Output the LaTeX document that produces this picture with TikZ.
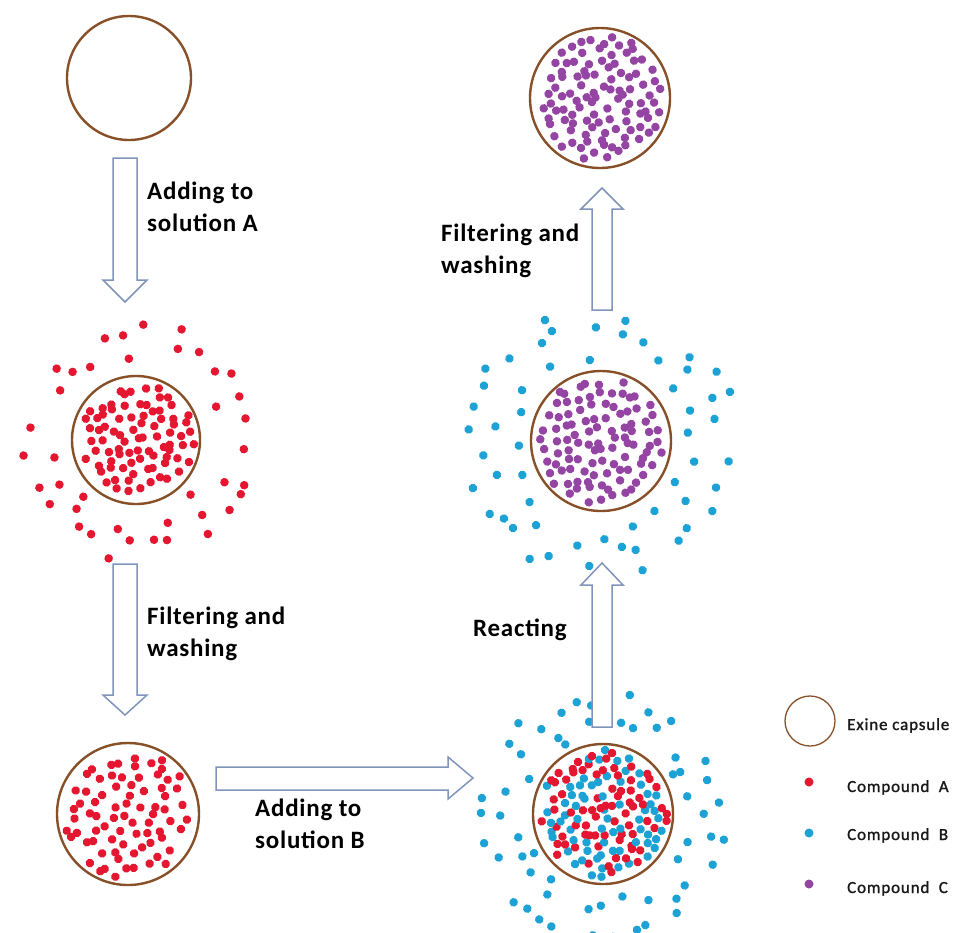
\documentclass[tikz,border=0pt]{standalone}
\usepackage{fontspec}
\setmainfont{Carlito}
\usetikzlibrary{calc}
\definecolor{capbrown}{RGB}{135,80,40}
\definecolor{dotred}{RGB}{228,22,48}
\definecolor{dotblue}{RGB}{28,162,212}
\definecolor{dotpurple}{RGB}{148,68,162}
\definecolor{arrowcol}{RGB}{128,148,188}
\tikzset{
  capsule/.style={circle, draw=capbrown, line width=2.4pt, inner sep=0pt, minimum size=#1},
  blockarrow/.style={draw=arrowcol, line width=1.5pt, fill=white, line join=miter},
  steplabel/.style={font=\bfseries\fontsize{25}{32}\selectfont\addfontfeatures{LetterSpace=3}, align=left, anchor=base west, inner sep=0pt},
  legendtext/.style={font=\fontsize{17}{18}\selectfont\addfontfeatures{LetterSpace=5,FakeBold=1.2}, anchor=base west, inner sep=0pt, text=black!90},
  reddot/.style={fill=dotred},
  bluedot/.style={fill=dotblue},
  purpledot/.style={fill=dotpurple},
}
% jittered grid of dots in an annulus
% #1 centre, #2 inner r, #3 outer r, #4 spacing, #5 jitter, #6 style, #7 half count, #8 grid rotation
\newcommand\dotfield[8]{%
  \begin{scope}[shift={(#1)}, rotate=#8]
  \foreach \i in {-#7,...,#7}{\foreach \j in {-#7,...,#7}{%
    \pgfmathsetmacro\px{\i*#4+#5*rand}%
    \pgfmathsetmacro\py{\j*#4+#5*rand}%
    \pgfmathsetmacro\dd{10*veclen(\px/10,\py/10)}%
    \ifdim\dd pt<#3pt \ifdim\dd pt>#2pt
      \fill[#6] (\px pt,\py pt) circle (4.3pt);
    \fi\fi
  }}
  \end{scope}}
% mixed red/blue jittered grid in a disc: #1 centre, #2 radius, #3 spacing, #4 jitter, #5 half count, #6 rotation
\newcommand\mixfield[6]{%
  \begin{scope}[shift={(#1)}, rotate=#6]
  \foreach \i in {-#5,...,#5}{\foreach \j in {-#5,...,#5}{%
    \pgfmathsetmacro\px{\i*#3+#4*rand}%
    \pgfmathsetmacro\py{\j*#3+#4*rand}%
    \pgfmathsetmacro\dd{10*veclen(\px/10,\py/10)}%
    \pgfmathtruncatemacro\kk{rnd<0.5}%
    \ifdim\dd pt<#2pt
      \ifnum\kk=1 \fill[reddot] (\px pt,\py pt) circle (4.3pt);
      \else \fill[bluedot] (\px pt,\py pt) circle (4.3pt);\fi
    \fi
  }}
  \end{scope}}
\begin{document}
\begin{tikzpicture}[x=1pt,y=-1pt]
\useasboundingbox (0,0) rectangle (963,932);
\fill[white] (0,0) rectangle (963,932);

% capsules
\node[capsule=124pt] (c1) at (129,78) {};
\node[capsule=128pt] (c2) at (136,440) {};
\node[capsule=142pt] (c3) at (128,814) {};
\node[capsule=140pt] (c4) at (600,98) {};
\node[capsule=140pt] (c5) at (601,441) {};
\node[capsule=140pt] (c6) at (603,814) {};

% dots
\pgfmathsetseed{11}
\dotfield{c2}{0}{58}{11}{4}{reddot}{6}{17}
\dotfield{c2}{76}{122}{26}{10}{reddot}{5}{8}
\pgfmathsetseed{23}
\dotfield{c3}{0}{64}{13}{4.5}{reddot}{6}{23}
\pgfmathsetseed{37}
\dotfield{c4}{0}{64}{11.3}{4}{purpledot}{6}{31}
\pgfmathsetseed{41}
\dotfield{c5}{0}{64}{11.3}{4}{purpledot}{6}{12}
\dotfield{c5}{80}{138}{28}{10}{bluedot}{5}{21}
\pgfmathsetseed{53}
\mixfield{c6}{64}{9.5}{3.5}{7}{27}
\dotfield{c6}{78}{126}{23}{9}{bluedot}{6}{14}

% block arrows
\draw[blockarrow] (113,158) -- (137,158) -- (137,280) -- (147,280) -- (125,302) -- (103,280) -- (113,280) -- cycle;
\draw[blockarrow] (113,564) -- (137,564) -- (137,695) -- (147,695) -- (125,715) -- (103,695) -- (113,695) -- cycle;
\draw[blockarrow] (216,767) -- (448,767) -- (448,757) -- (473,778) -- (448,799) -- (448,790) -- (216,790) -- cycle;
\draw[blockarrow] (592,727) -- (612,727) -- (612,585) -- (623,585) -- (602,563) -- (581,585) -- (592,585) -- cycle;
\draw[blockarrow] (592,310) -- (612,310) -- (612,209) -- (623,209) -- (602,188) -- (581,209) -- (592,209) -- cycle;

% labels (base anchor = baseline of last line)
\node[steplabel] (t1) at (147,231) {Adding to\\solution A};
\node[steplabel] (t2) at (147,656) {Filtering and\\washing};
\node[steplabel] (t3) at (255,848) {Adding to\\solution B};
\node[steplabel] (t4) at (441,273) {Filtering and\\washing};
\node[steplabel] (t5) at (473,636) {Reacting};

% legend
\node[circle, draw=capbrown, line width=1.3pt, minimum size=50pt, inner sep=0pt] (lg0) at (810,721) {};
\fill[reddot] (809,782) circle (4.5pt) coordinate (lg1);
\fill[bluedot] (809,833) circle (4.5pt) coordinate (lg2);
\fill[purpledot] (809,884) circle (4.5pt) coordinate (lg3);
\node[legendtext] (l0) at (847,730) {Exine capsule};
\node[legendtext] (l1) at (847,792) {Compound\ \ A};
\node[legendtext] (l2) at (847,840) {Compound\ \ B};
\node[legendtext] (l3) at (847,893) {Compound\ \ C};
\end{tikzpicture}
\end{document}
